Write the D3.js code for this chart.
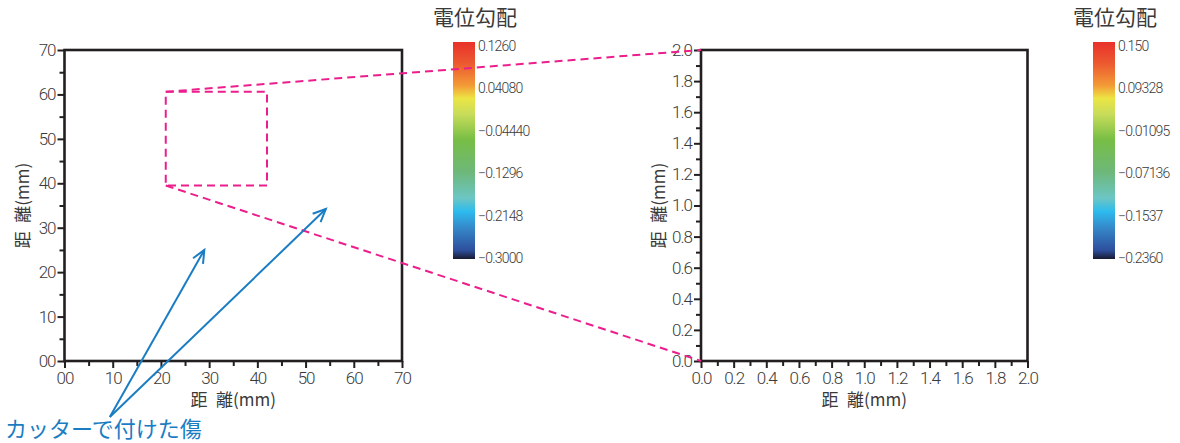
<!DOCTYPE html>
<html>
<head>
<meta charset="utf-8">
<script src="https://cdn.jsdelivr.net/npm/d3@7"></script>
<style>
  body { margin: 0; background: white; }
  text { font-family: Roboto, "Noto Sans CJK JP", sans-serif; }
  .jp { font-family: "Noto Sans CJK JP", sans-serif; }
</style>
</head>
<body>
<div id="container"></div>
<script>
const width = 1180;
const height = 443;

// left panel: whole specimen (mm)
const leftDomain = [0, 70];
const leftMajor = [0, 10, 20, 30, 40, 50, 60, 70];
const leftMinor = [5, 15, 25, 35, 45, 55, 65];

// right panel: zoomed area (mm)
const rightDomain = [0, 2.0];
const rightMajor = [0, 0.2, 0.4, 0.6, 0.8, 1.0, 1.2, 1.4, 1.6, 1.8, 2.0];
const rightMinor = [0.1, 0.3, 0.5, 0.7, 0.9, 1.1, 1.3, 1.5, 1.7, 1.9];

// zoom box drawn on the left panel (mm)
const zoomBoxX = [21, 42];
const zoomBoxY = [39.5, 60.6];

// cutter scratch arrows (left panel mm): start point and tips
const arrowStart = [9.4, -12.6];
const arrowTips = [[29, 25], [54.2, 34.2]];
const scratchLabel = "カッターで付けた傷";

// colour bar labels
const leftBarLabels = ["0.1260", "0.04080", "\u22120.04440", "\u22120.1296", "\u22120.2148", "\u22120.3000"];
const rightBarLabels = ["0.150", "0.09328", "\u22120.01095", "\u22120.07136", "\u22120.1537", "\u22120.2360"];
const barTitle = "電位勾配";
const axisTitle = "距\u2002離(mm)";

// gradient stops top -> bottom
const gradOffsets = [0, 0.1, 0.2, 0.26, 0.33, 0.45, 0.6, 0.72, 0.78, 0.86, 0.96, 1];
const gradColors = ["#e8322b", "#ec5a30", "#f39a36", "#ece544", "#c9dd5a", "#78be45", "#6db87a",
                    "#6cc6c4", "#2dbbee", "#3586c8", "#2d4f9c", "#1a1a30"];

const ink = "#231f20";
const txt = "#3a3a3a";
const pink = "#ea1e8c";
const blue = "#1a7dc3";

const svg = d3.select("#container").append("svg")
  .attr("width", width)
  .attr("height", height);

const defs = svg.append("defs");
const grad = defs.append("linearGradient")
  .attr("id", "barGrad")
  .attr("x1", 0).attr("y1", 0).attr("x2", 0).attr("y2", 1);
grad.selectAll("stop").data(gradOffsets).enter().append("stop")
  .attr("offset", d => d)
  .attr("stop-color", (d, i) => gradColors[i]);

// scales
const xLeft = d3.scaleLinear().domain(leftDomain).range([64.5, 402]);
const yLeft = d3.scaleLinear().domain(leftDomain).range([361, 50]);
const xRight = d3.scaleLinear().domain(rightDomain).range([701, 1027.5]);
const yRight = d3.scaleLinear().domain(rightDomain).range([361, 50]);

function drawPanel(x, y, major, minor, fmt) {
  let g = svg.append("g");

  // minor ticks
  g.append("g").attr("transform", "translate(0," + y.range()[0] + ")")
    .call(d3.axisBottom(x).tickValues(minor).tickSize(5).tickFormat(""));
  g.append("g").attr("transform", "translate(" + x.range()[0] + ",0)")
    .call(d3.axisLeft(y).tickValues(minor).tickSize(5).tickFormat(""));

  // major ticks + labels
  g.append("g").attr("class", "xaxis").attr("transform", "translate(0," + y.range()[0] + ")")
    .call(d3.axisBottom(x).tickValues(major).tickSize(7).tickPadding(4).tickFormat(fmt));
  g.append("g").attr("class", "yaxis").attr("transform", "translate(" + x.range()[0] + ",0)")
    .call(d3.axisLeft(y).tickValues(major).tickSize(7).tickPadding(2).tickFormat(fmt));

  g.selectAll(".domain").remove();
  g.selectAll(".tick line").attr("stroke", ink).attr("stroke-width", 2);
  g.selectAll(".tick text")
    .attr("fill", txt)
    .style("font-size", "17px")
    .style("font-weight", 300)
    .style("letter-spacing", "-1px");

  // frame
  g.append("rect")
    .attr("x", x.range()[0])
    .attr("y", y.range()[1])
    .attr("width", x.range()[1] - x.range()[0])
    .attr("height", y.range()[0] - y.range()[1])
    .attr("fill", "none")
    .attr("stroke", ink)
    .attr("stroke-width", 2.6);

  // axis titles
  let cx = (x.range()[0] + x.range()[1]) / 2;
  let cy = (y.range()[0] + y.range()[1]) / 2;
  g.append("text")
    .attr("class", "jp")
    .attr("x", cx).attr("y", 406)
    .attr("text-anchor", "middle")
    .attr("fill", txt)
    .style("font-size", "17px")
    .text(axisTitle);
  g.append("text")
    .attr("class", "jp")
    .attr("transform", "translate(" + (x.range()[0] - 36) + "," + cy + ") rotate(-90)")
    .attr("text-anchor", "middle")
    .attr("fill", txt)
    .style("font-size", "17px")
    .text(axisTitle);
}

drawPanel(xLeft, yLeft, leftMajor, leftMinor, d => d === 0 ? "00" : d);
drawPanel(xRight, yRight, rightMajor, rightMinor, d => d.toFixed(1));

// colour bars
function drawBar(x0, labels) {
  let pos = d3.scalePoint().domain(labels).range([46, 258]);
  let g = svg.append("g");
  g.append("rect")
    .attr("x", x0)
    .attr("y", pos(labels[0]) - 4)
    .attr("width", 22)
    .attr("height", pos(labels[labels.length - 1]) - pos(labels[0]) + 5)
    .attr("fill", "url(#barGrad)");
  g.selectAll(".lbl").data(labels).enter().append("text")
    .attr("x", x0 + 25)
    .attr("y", d => pos(d))
    .attr("dy", "0.36em")
    .attr("fill", txt)
    .style("font-size", "14px")
    .style("font-weight", 300)
    .style("letter-spacing", "-0.8px")
    .text(d => d);
  g.append("text")
    .attr("class", "jp")
    .attr("x", x0 + 22)
    .attr("y", 25)
    .attr("text-anchor", "middle")
    .attr("fill", txt)
    .style("font-size", "21px")
    .text(barTitle);
}

drawBar(453, leftBarLabels);
drawBar(1093, rightBarLabels);

// zoom box and connecting lines
svg.append("rect")
  .attr("x", xLeft(zoomBoxX[0]))
  .attr("y", yLeft(zoomBoxY[1]))
  .attr("width", xLeft(zoomBoxX[1]) - xLeft(zoomBoxX[0]))
  .attr("height", yLeft(zoomBoxY[0]) - yLeft(zoomBoxY[1]))
  .attr("fill", "none")
  .attr("stroke", pink)
  .attr("stroke-width", 2)
  .attr("stroke-dasharray", "8,5");

let links = [
  [[xLeft(zoomBoxX[0]), yLeft(zoomBoxY[1])], [xRight(rightDomain[0]), yRight(rightDomain[1])]],
  [[xLeft(zoomBoxX[0]), yLeft(zoomBoxY[0])], [xRight(rightDomain[0]), yRight(rightDomain[0])]]
];
svg.selectAll(".link").data(links).enter().append("line")
  .attr("x1", d => d[0][0]).attr("y1", d => d[0][1])
  .attr("x2", d => d[1][0]).attr("y2", d => d[1][1])
  .attr("stroke", pink)
  .attr("stroke-width", 2)
  .attr("stroke-dasharray", "8,5");

// scratch arrows
let sx = xLeft(arrowStart[0]);
let sy = yLeft(arrowStart[1]);
let arrows = svg.selectAll(".arrow").data(arrowTips).enter().append("g");
arrows.append("line")
  .attr("x1", sx).attr("y1", sy)
  .attr("x2", d => xLeft(d[0])).attr("y2", d => yLeft(d[1]))
  .attr("stroke", blue)
  .attr("stroke-width", 2);
arrows.append("path")
  .attr("d", function(d) {
    let tx = xLeft(d[0]), ty = yLeft(d[1]);
    let a = Math.atan2(ty - sy, tx - sx);
    let len = 14, spread = 0.42;
    let p1 = [tx - len * Math.cos(a - spread), ty - len * Math.sin(a - spread)];
    let p2 = [tx - len * Math.cos(a + spread), ty - len * Math.sin(a + spread)];
    return "M" + p1 + "L" + tx + "," + ty + "L" + p2;
  })
  .attr("fill", "none")
  .attr("stroke", blue)
  .attr("stroke-width", 2);

svg.append("text")
  .attr("class", "jp")
  .attr("x", 5)
  .attr("y", 437)
  .attr("fill", blue)
  .style("font-size", "22px")
  .text(scratchLabel);
</script>
</body>
</html>
